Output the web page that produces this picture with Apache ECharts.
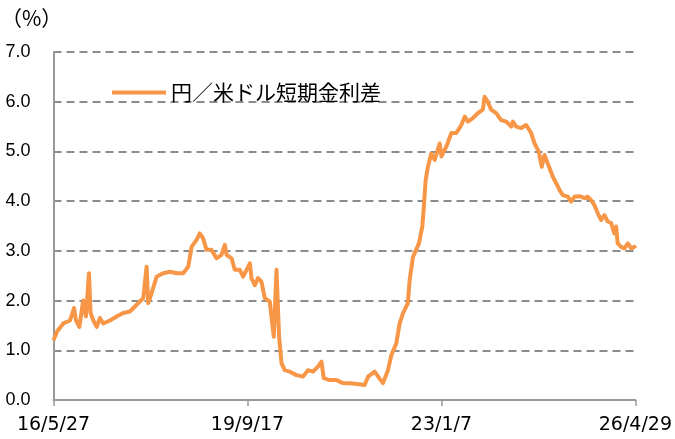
<!DOCTYPE html>
<html>
<head>
<meta charset="utf-8">
<script src="https://cdn.jsdelivr.net/npm/echarts@6/dist/echarts.min.js"></script>
<style>
  html, body { margin: 0; padding: 0; background: #ffffff; }
  #chart { width: 675px; height: 439px; }
</style>
</head>
<body>
<div id="chart"></div>
<script>
// Days elapsed since 2016/5/27
const dayOffsets = [
  0, 22, 61, 103, 128, 140, 161, 185, 202, 221, 231, 248, 269, 289, 310, 352, 393, 434, 476, 507,
  528, 559, 580, 590, 611, 642, 683, 725, 766, 808, 839, 860, 891, 911, 922, 932, 953, 984, 1015, 1046,
  1067, 1078, 1109, 1129, 1160, 1181, 1223, 1233, 1254, 1274, 1295, 1316, 1347, 1372, 1389, 1405, 1420, 1440, 1472, 1513,
  1554, 1585, 1616, 1647, 1669, 1683, 1720, 1762, 1803, 1865, 1938, 1959, 2000, 2031, 2052, 2083, 2104, 2135, 2156, 2176,
  2207, 2218, 2239, 2249, 2276, 2297, 2305, 2318, 2332, 2353, 2374, 2405, 2416, 2447, 2478, 2509, 2540, 2561, 2581, 2612,
  2643, 2674, 2685, 2705, 2726, 2757, 2788, 2820, 2851, 2861, 2882, 2913, 2944, 2975, 2996, 3022, 3041, 3058, 3078, 3093,
  3110, 3131, 3151, 3172, 3203, 3224, 3245, 3276, 3307, 3327, 3348, 3369, 3389, 3411, 3431, 3452, 3473, 3493, 3504, 3514,
  3535, 3556, 3577, 3598, 3618, 3624
];
// 円／米ドル短期金利差 (%)
const spreadValues = [
  1.20, 1.38, 1.54, 1.60, 1.85, 1.60, 1.47, 2.00, 1.68, 2.55, 1.75, 1.60, 1.47, 1.65, 1.54, 1.60, 1.68, 1.75, 1.78, 1.88,
  1.95, 2.05, 2.68, 1.95, 2.15, 2.48, 2.55, 2.58, 2.55, 2.55, 2.68, 3.08, 3.22, 3.35, 3.32, 3.25, 3.02, 3.02, 2.85, 2.92,
  3.12, 2.92, 2.85, 2.62, 2.62, 2.48, 2.75, 2.45, 2.31, 2.45, 2.38, 2.05, 1.98, 1.27, 2.62, 1.27, 0.74, 0.60, 0.57, 0.50,
  0.47, 0.60, 0.57, 0.67, 0.77, 0.44, 0.40, 0.40, 0.34, 0.33, 0.30, 0.47, 0.57, 0.43, 0.34, 0.60, 0.90, 1.14, 1.54, 1.74,
  1.95, 2.41, 2.88, 2.95, 3.15, 3.49, 3.82, 4.43, 4.69, 4.96, 4.83, 5.16, 4.90, 5.10, 5.37, 5.37, 5.53, 5.70, 5.60, 5.67,
  5.77, 5.84, 6.10, 6.00, 5.84, 5.77, 5.63, 5.60, 5.50, 5.60, 5.50, 5.47, 5.53, 5.37, 5.16, 5.00, 4.69, 4.93, 4.76, 4.63,
  4.49, 4.36, 4.23, 4.12, 4.09, 3.99, 4.09, 4.10, 4.06, 4.09, 4.02, 3.92, 3.76, 3.62, 3.72, 3.59, 3.56, 3.35, 3.49, 3.15,
  3.08, 3.05, 3.15, 3.05, 3.08, 3.05
];
const xTickLabels = ['16/5/27', '19/9/17', '23/1/7', '26/4/29'];
const xTickStep = 1208;
const seriesName = '円／米ドル短期金利差';

const chart = echarts.init(document.getElementById('chart'), null, { renderer: 'canvas' });
chart.setOption({
  animation: false,
  backgroundColor: '#ffffff',
  grid: { left: 53.5, right: 39, top: 52, bottom: 39, containLabel: false },
  graphic: [{
    type: 'text', left: 1, top: 8,
    style: { text: '（%）', font: '21px "Noto Sans CJK JP"', fill: '#000' }
  }],
  legend: {
    show: true, left: 107, top: 77,
    icon: 'rect', itemWidth: 54, itemHeight: 4,
    textStyle: { fontFamily: '"Noto Sans CJK JP"', fontSize: 21, color: '#000' },
    data: [seriesName]
  },
  xAxis: {
    type: 'value', min: 0, max: 3624, interval: xTickStep,
    axisLine: { show: true, lineStyle: { color: '#999999', width: 2 } },
    axisTick: { show: true, length: 6, lineStyle: { color: '#999999', width: 1.5 } },
    splitLine: { show: false },
    axisLabel: {
      margin: 16, fontFamily: '"DejaVu Sans"', fontSize: 19, color: '#000',
      formatter: v => xTickLabels[Math.round(v / xTickStep)] || ''
    }
  },
  yAxis: {
    type: 'value', min: 0, max: 7, interval: 1,
    axisLine: { show: true, lineStyle: { color: '#999999', width: 2 } },
    axisTick: { show: false },
    splitLine: { show: true, lineStyle: { color: '#8c8c8c', width: 2, type: [8, 5] } },
    axisLabel: {
      margin: 23, fontFamily: '"Liberation Sans"', fontSize: 18, color: '#000',
      formatter: v => v.toFixed(1)
    }
  },
  series: [{
    name: seriesName, type: 'line',
    data: dayOffsets.map((d, i) => [d, spreadValues[i]]),
    showSymbol: false, symbol: 'none',
    lineStyle: { color: '#F79646', width: 4, join: 'round' },
    itemStyle: { color: '#F79646' }
  }]
});
</script>
</body>
</html>
